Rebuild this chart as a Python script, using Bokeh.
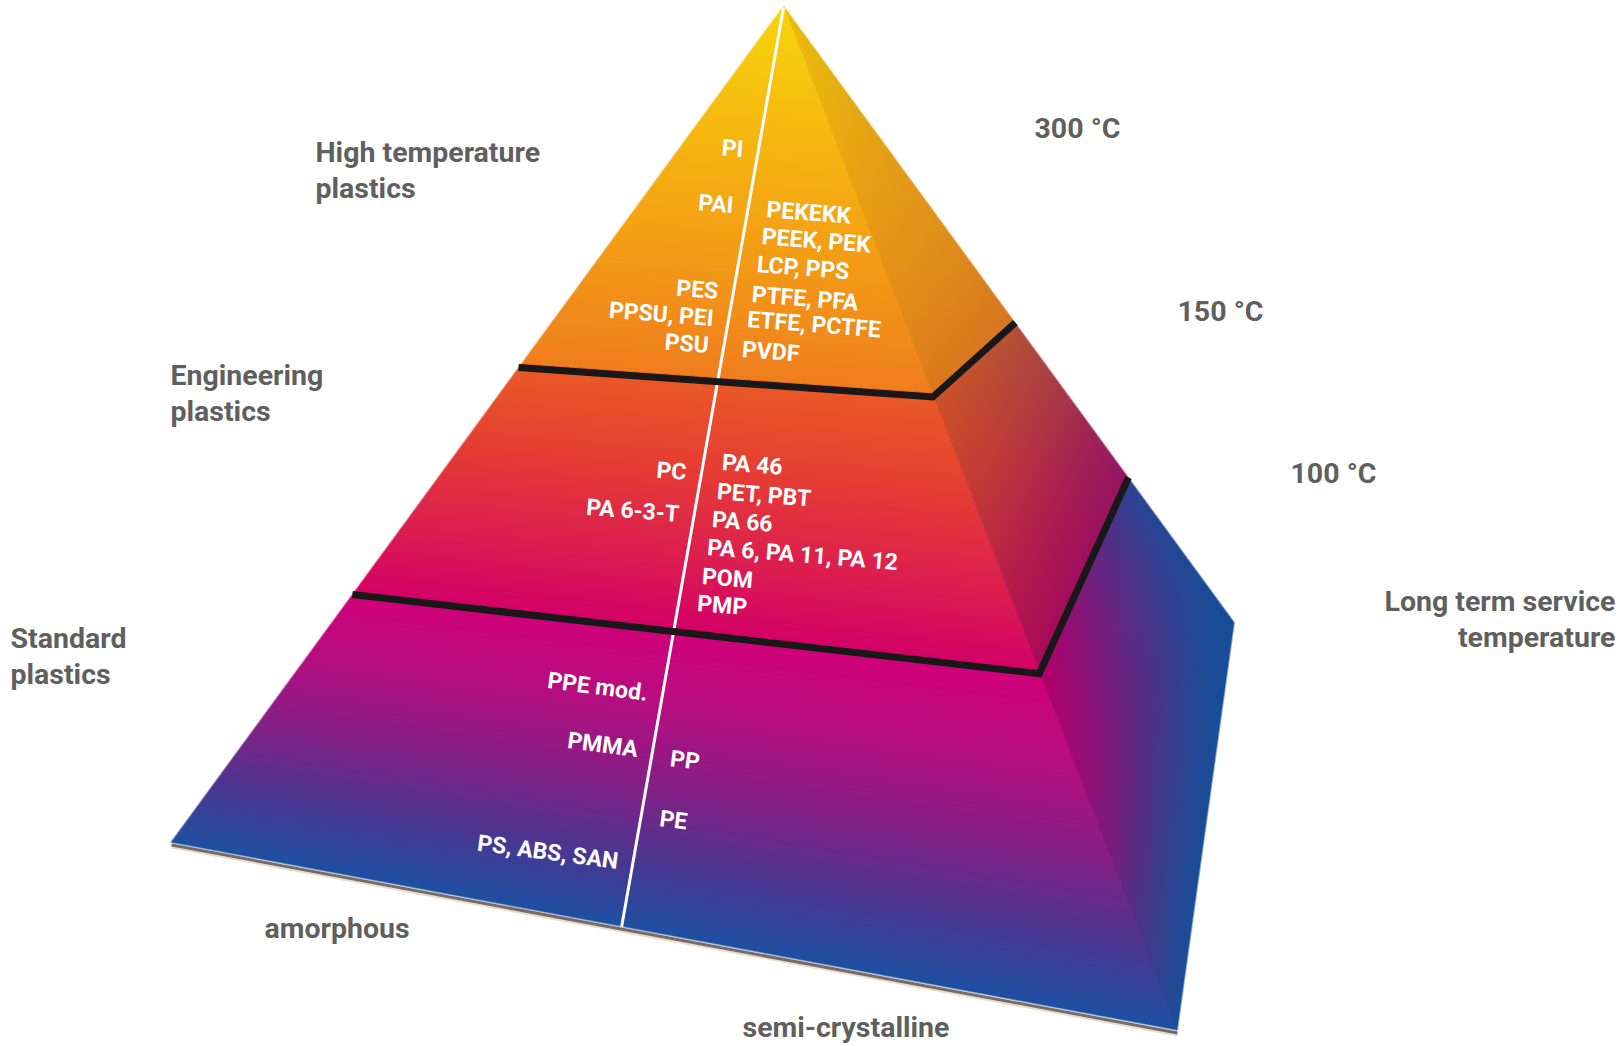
import numpy as np
from bokeh.plotting import figure
from bokeh.models import Range1d, ColumnDataSource
from bokeh.core.properties import value
from bokeh.embed import file_html
from bokeh.resources import INLINE

# ---------------- content ----------------
TIER_NAMES = ["High temperature\nplastics", "Engineering\nplastics", "Standard\nplastics"]
TIER_TEMPS = ["300 °C", "150 °C", "100 °C"]
AXIS_TITLE = "Long term service\ntemperature"
STRUCTURES = ["amorphous", "semi-crystalline"]
AMORPHOUS = [["PI", "PAI", "PES", "PPSU, PEI", "PSU"],
             ["PC", "PA 6-3-T"],
             ["PPE mod.", "PMMA", "PS, ABS, SAN"]]
SEMI_CRYSTALLINE = [["PEKEKK", "PEEK, PEK", "LCP, PPS", "PTFE, PFA", "ETFE, PCTFE", "PVDF"],
                    ["PA 46", "PET, PBT", "PA 66", "PA 6, PA 11, PA 12", "POM", "PMP"],
                    ["PP", "PE"]]

# ---------------- layout (page pixel coordinates) ----------------
PAGE_W, PAGE_H = 1621, 1046
APEX = (783.0, 5.0)
LEFT = (170.0, 842.0)
FRONT = (1177.0, 1030.0)
BACK = (1234.0, 622.0)
H_LEVELS = [0.0, 0.40, 0.68, 1.0]          # apex, tier boundaries, base
T_LEFT = [0.0, 0.429, 0.700, 1.0]          # where those levels sit on each edge
T_FRONT = [0.0, 0.379, 0.649, 1.0]
T_BACK = [0.0, 0.514, 0.765, 1.0]
DIVIDER_U = 0.448                           # divider foot along the front base edge

AMORPHOUS_Y = [[149, 205, 291, 318, 345], [472, 514], [693, 749, 861]]
SEMI_Y = [[209, 236, 264, 294, 319, 349], [462, 491, 519, 547, 576, 603], [758, 818]]
TIER_ANGLE_DEG = [4.5, 4.5, 7.5]
GAP_LEFT, GAP_RIGHT = 15, 19

# vertical positions are the middle of the capital letters
TIER_LABEL_XY = [(315, 152), (170, 375), (10, 638)]
TEMP_XY = [(1034, 128), (1177, 311), (1290, 473)]
STRUCT_XY = [(264, 928), (742, 1027)]
AXIS_TITLE_XY = (1615, 601)
LINE_GAP = 36

GRAY = "#5F5F5F"
FRONT_STOPS = [
    [(0.00, "#F8D60C"), (0.12, "#F6BC10"), (0.25, "#F4A015"), (0.40, "#F07E1E")],
    [(0.40, "#EA5A26"), (0.50, "#E53E34"), (0.60, "#DC1E50"), (0.68, "#D40268")],
    [(0.68, "#D2007A"), (0.76, "#B80E80"), (0.84, "#8A1E86"), (0.92, "#50348F"), (1.00, "#1E50A2")],
]
RIGHT_STOPS = [
    [(0.00, "#EDC00A"), (0.15, "#EAA812"), (0.30, "#E48E18"), (0.40, "#DC781E")],
    [(0.40, "#CC5428"), (0.50, "#C43A36"), (0.60, "#B61C4C"), (0.68, "#A80A5A")],
    [(0.68, "#B2006C"), (0.76, "#9E0C74"), (0.84, "#7A1C7C"), (0.92, "#443888"), (1.00, "#1A4E98")],
]
RIGHT_BLUE_MAX = [0.03, 0.15, 0.90]
BLUE_R = np.array([22, 78, 152], float)


def Y(py):
    return PAGE_H - np.asarray(py, dtype=float)


def lerp_pt(P, Q, t):
    return (P[0] + t * (Q[0] - P[0]), P[1] + t * (Q[1] - P[1]))


def hex2rgb(h):
    h = h.lstrip("#")
    return [int(h[i:i + 2], 16) for i in (0, 2, 4)]


def edge_dist(P, Q, px, py, ref):
    dx, dy = Q[0] - P[0], Q[1] - P[1]
    d = (dx * (py - P[1]) - dy * (px - P[0])) / np.hypot(dx, dy)
    sref = dx * (ref[1] - P[1]) - dy * (ref[0] - P[0])
    return d if sref > 0 else -d


def level_field(px, py, E1, T1, E2, T2, n=240):
    acc = np.zeros_like(px)
    for k in range(n):
        hk = (k + 0.5) / n
        a = np.interp(hk, H_LEVELS, T1)
        b = np.interp(hk, H_LEVELS, T2)
        ax, ay = lerp_pt(APEX, E1, a)
        bx, by = lerp_pt(APEX, E2, b)
        dx, dy = bx - ax, by - ay
        c = (dx * (py - ay) - dy * (px - ax)) / np.hypot(dx, dy)
        acc += np.clip(c * 0.5 + 0.5, 0.0, 1.0)
    return acc / n


def ramp(h, stops_by_tier):
    out = np.zeros(h.shape + (3,))
    tier = np.digitize(h, [H_LEVELS[1], H_LEVELS[2]])
    for ti, stops in enumerate(stops_by_tier):
        m = tier == ti
        if not m.any():
            continue
        hs = [s[0] for s in stops]
        cs = np.array([hex2rgb(s[1]) for s in stops], float)
        for c in range(3):
            out[m, c] = np.interp(h[m], hs, cs[:, c])
    return out, tier


# ---------------- raster of the two pyramid faces ----------------
x0, x1, y0, y1 = 160, 1245, 0, 1040
X, Yp = np.meshgrid(np.arange(x0, x1) + 0.5, np.arange(y0, y1) + 0.5)
quad = [APEX, LEFT, FRONT, BACK]
cen = (sum(q[0] for q in quad) / 4, sum(q[1] for q in quad) / 4)
dmin = np.full(X.shape, np.inf)
for i in range(4):
    dmin = np.minimum(dmin, edge_dist(quad[i], quad[(i + 1) % 4], X, Yp, cen))
cov = np.clip(dmin + 0.5, 0, 1)
dAF = edge_dist(APEX, FRONT, X, Yp, LEFT)
wf = np.clip(dAF + 0.5, 0, 1)

rgb = np.zeros(X.shape + (3,))
sel_f = (cov > 0) & (dAF > -1)
px, py = X[sel_f], Yp[sel_f]
hf = level_field(px, py, LEFT, T_LEFT, FRONT, T_FRONT)
cf, _ = ramp(hf, FRONT_STOPS)
rgb[sel_f] += cf * wf[sel_f][:, None]

sel_r = (cov > 0) & (dAF < 1)
px, py = X[sel_r], Yp[sel_r]
hr = level_field(px, py, FRONT, T_FRONT, BACK, T_BACK)
cr, tr = ramp(hr, RIGHT_STOPS)
tF = np.interp(hr, H_LEVELS, T_FRONT)
tB = np.interp(hr, H_LEVELS, T_BACK)
Rx, Ry = APEX[0] + tF * (FRONT[0] - APEX[0]), APEX[1] + tF * (FRONT[1] - APEX[1])
Bx, By = APEX[0] + tB * (BACK[0] - APEX[0]), APEX[1] + tB * (BACK[1] - APEX[1])
s = ((px - Rx) * (Bx - Rx) + (py - Ry) * (By - Ry)) / ((Bx - Rx) ** 2 + (By - Ry) ** 2 + 1e-9)
s = np.clip(s, 0, 1)
w = np.array(RIGHT_BLUE_MAX)[tr] * s ** 1.3
cr = cr * (1 - w)[:, None] + BLUE_R[None, :] * w[:, None]
rgb[sel_r] += cr * (1 - wf[sel_r])[:, None]

rgba = np.zeros(X.shape + (4,), dtype=np.uint8)
rgba[..., :3] = np.clip(rgb, 0, 255).astype(np.uint8)
rgba[..., 3] = (cov * 255).astype(np.uint8)
img = np.flipud(rgba).copy().view(np.uint32).reshape(X.shape)

# ---------------- figure (page has no margin: figure fills the window) ----------------
p = figure(width=PAGE_W, height=PAGE_H, x_range=Range1d(0, PAGE_W), y_range=Range1d(0, PAGE_H),
           output_backend="svg", toolbar_location=None, min_border=0,
           x_axis_location=None, y_axis_location=None)
p.grid.visible = False
p.outline_line_color = None
p.background_fill_color = "white"
p.border_fill_color = "white"

# soft shadow under the front base edge
p.line([LEFT[0] + 1, FRONT[0]], Y([LEFT[1] + 5, FRONT[1] + 5]), line_color="#EADCCD", line_width=2)
p.line([LEFT[0] + 1, FRONT[0]], Y([LEFT[1] + 2.5, FRONT[1] + 2.5]), line_color="#756C66", line_width=3)

p.image_rgba(image=[img], x=x0, y=PAGE_H - y1, dw=x1 - x0, dh=y1 - y0)

# divider amorphous | semi-crystalline
foot = lerp_pt(LEFT, FRONT, DIVIDER_U)
p.line([APEX[0], foot[0]], Y([APEX[1] + 2, foot[1]]), line_color="white", line_width=3)

# tier boundaries
for k in (1, 2):
    a = lerp_pt(APEX, LEFT, T_LEFT[k])
    b = lerp_pt(APEX, FRONT, T_FRONT[k])
    c = lerp_pt(APEX, BACK, T_BACK[k])
    p.line([a[0] - 2, b[0], c[0]], Y([a[1] + 3, b[1] + 3, c[1]]), line_color="#181818",
           line_width=7, line_join="miter")


def div_x(py):
    return APEX[0] + (foot[0] - APEX[0]) * (py - APEX[1]) / (foot[1] - APEX[1])


# material labels
for names, ys, align, gap in ((AMORPHOUS, AMORPHOUS_Y, "right", -GAP_LEFT),
                              (SEMI_CRYSTALLINE, SEMI_Y, "left", GAP_RIGHT)):
    xs, yy, tx, ang = [], [], [], []
    for ti in range(3):
        for nm, yv in zip(names[ti], ys[ti]):
            xs.append(div_x(yv) + gap)
            yy.append(PAGE_H - yv)
            tx.append(nm)
            ang.append(-np.deg2rad(TIER_ANGLE_DEG[ti]))
    src = ColumnDataSource(dict(x=xs, y=yy, text=tx, angle=ang))
    p.text(x="x", y="y", text="text", angle="angle", source=src, text_color="white",
           text_font=value("Roboto"), text_font_style="bold", text_font_size="23px",
           text_align=align, text_baseline="middle")

# gray annotations
gx, gy, gt, ga = [], [], [], []
for name, (lx, ly) in zip(TIER_NAMES, TIER_LABEL_XY):
    for i, line in enumerate(name.split("\n")):
        gx.append(lx); gy.append(PAGE_H - (ly + i * LINE_GAP)); gt.append(line); ga.append("left")
for t, (lx, ly) in zip(TIER_TEMPS, TEMP_XY):
    gx.append(lx); gy.append(PAGE_H - ly); gt.append(t); ga.append("left")
for t, (lx, ly) in zip(STRUCTURES, STRUCT_XY):
    gx.append(lx); gy.append(PAGE_H - ly); gt.append(t); ga.append("left")
for i, line in enumerate(AXIS_TITLE.split("\n")):
    gx.append(AXIS_TITLE_XY[0]); gy.append(PAGE_H - (AXIS_TITLE_XY[1] + i * LINE_GAP))
    gt.append(line); ga.append("right")
gsrc = ColumnDataSource(dict(x=gx, y=gy, text=gt, align=ga))
p.text(x="x", y="y", text="text", text_align="align", source=gsrc, text_color=GRAY,
       text_font=value("Roboto"), text_font_style="bold", text_font_size="28.5px",
       text_baseline="middle")

open("out.html", "w").write(file_html(p, INLINE))
